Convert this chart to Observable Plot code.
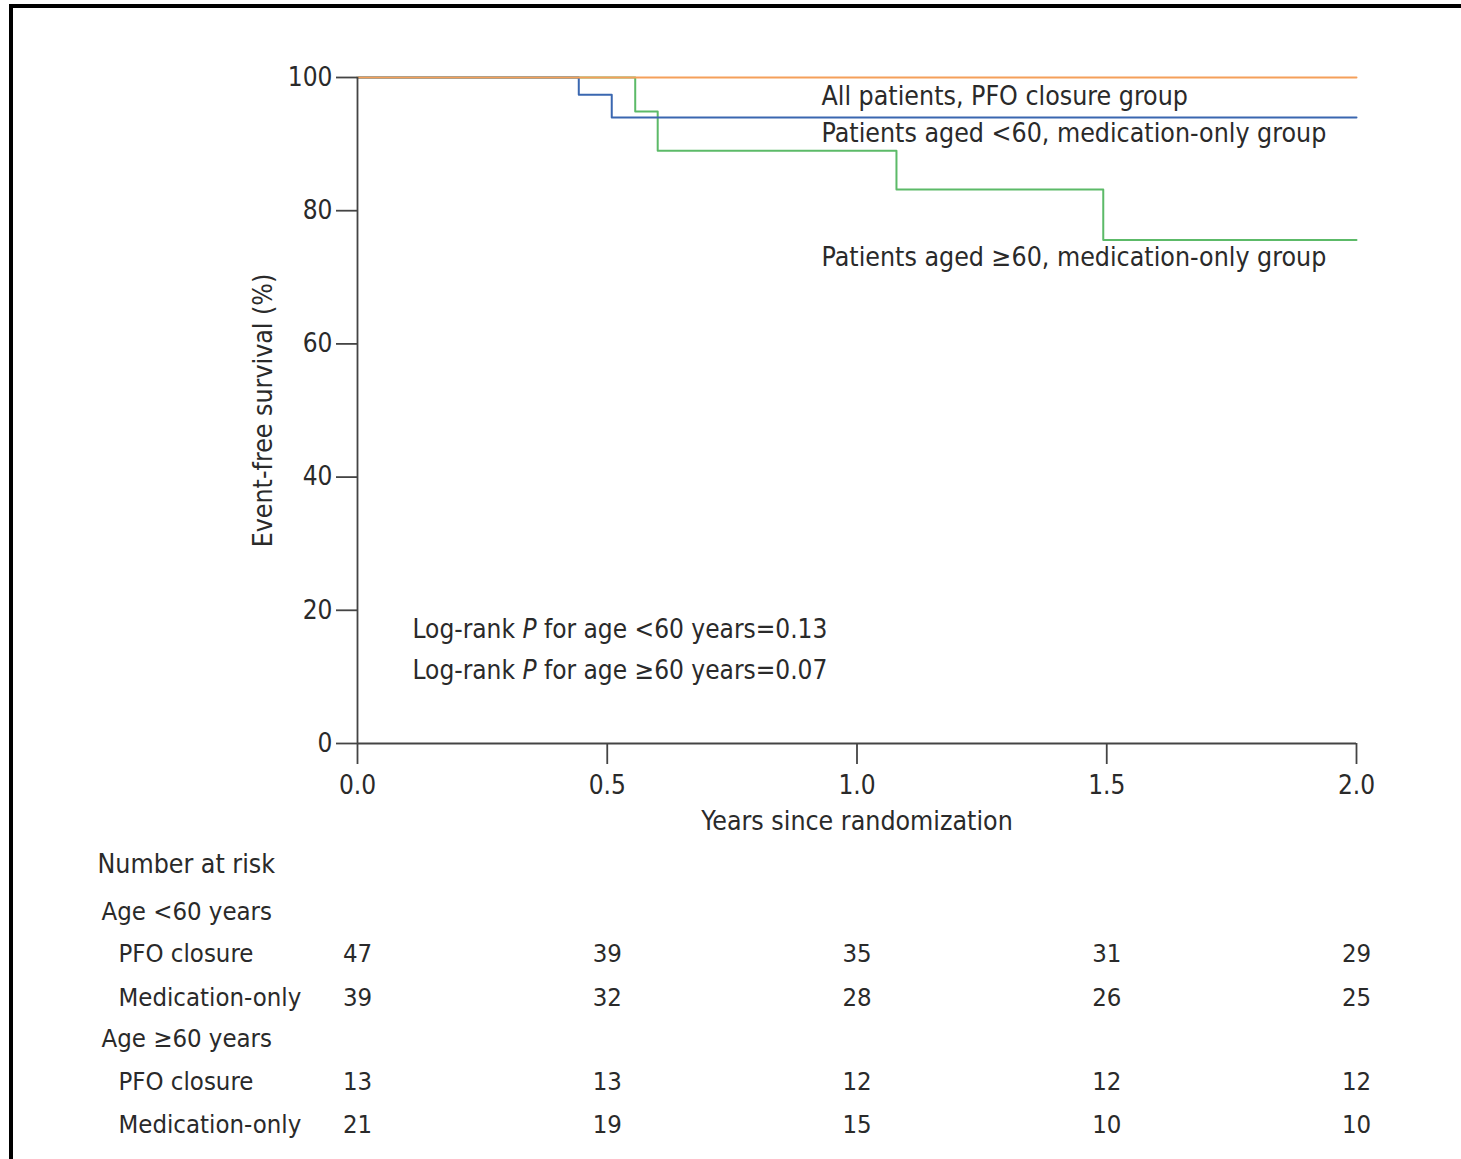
<!DOCTYPE html>
<html>
<head>
<meta charset="utf-8">
<script src="https://cdn.jsdelivr.net/npm/d3@7"></script>
<script src="https://cdn.jsdelivr.net/npm/@observablehq/plot@0.6"></script>
<style>
  html, body { margin: 0; padding: 0; background: #fff; }
  #wrap { position: relative; width: 1461px; height: 1159px; overflow: hidden; }
  #frame { position: absolute; left: 9px; top: 4px; right: -10px; bottom: -10px;
           border-top: 4px solid #000; border-left: 4px solid #000; pointer-events: none; }
  #chart { position: absolute; left: 0; top: 0; }
</style>
</head>
<body>
<div id="wrap"><div id="chart"></div><div id="frame"></div></div>
<script>
// ---------- data ----------
const xTicks = [0, 0.5, 1.0, 1.5, 2.0];
const yTicks = [0, 20, 40, 60, 80, 100];

// Kaplan-Meier step curves (years, event-free survival %)
const pfoAllTimes = [0, 2.0];
const pfoAllSurv  = [100, 100];
const medU60Times = [0, 0.443, 0.509, 2.0];
const medU60Surv  = [100, 97.4, 94.0, 94.0];
const medO60Times = [0, 0.556, 0.601, 1.079, 1.493, 2.0];
const medO60Surv  = [100, 94.9, 89.0, 83.2, 75.6, 75.6];

const seriesNames = [
  "All patients, PFO closure group",
  "Patients aged <60, medication-only group",
  "Patients aged \u226560, medication-only group"
];
const seriesColors = ["#f5a05a", "#3a67b0", "#5cba68"];

const pValueTexts = [
  "Log-rank P for age <60 years=0.13",
  "Log-rank P for age \u226560 years=0.07"
];

// Number at risk
const riskYears = [0, 0.5, 1.0, 1.5, 2.0];
const riskTitle = "Number at risk";
const groupLabels = ["Age <60 years", "Age \u226560 years"];
const armLabels = ["PFO closure", "Medication-only"];
const riskU60Pfo = [47, 39, 35, 31, 29];
const riskU60Med = [39, 32, 28, 26, 25];
const riskO60Pfo = [13, 13, 12, 12, 12];
const riskO60Med = [21, 19, 15, 10, 10];

// ---------- build tables ----------
function curve(times, surv, name) {
  return times.map((t, i) => ({t, s: surv[i], name}));
}
const curves = [
  ...curve(pfoAllTimes, pfoAllSurv, seriesNames[0]),
  ...curve(medU60Times, medU60Surv, seriesNames[1]),
  ...curve(medO60Times, medO60Surv, seriesNames[2])
];

const riskRows = [riskU60Pfo, riskU60Med, riskO60Pfo, riskO60Med];

// ---------- layout (pixels) ----------
const FONT = '"DejaVu Sans Condensed", "DejaVu Sans", sans-serif';
const TXT = "#2a2a2a";
const AX = "#444";
const LBL = 26.5;
const seriesLabelDy = [19, 56, 180];   // from top of frame
const pLabelDy = [-114, -73];          // from bottom of frame
const groupDy = [168, 295];            // from bottom of frame
const armDy = [[210, 254], [338, 381]];
const countDy = [[210, 254], [338, 381]];

const marks = [];

// lines (orange drawn last so it sits on top at 100%)
[2, 1, 0].forEach(i => {
  const n = seriesNames[i];
  marks.push(Plot.line(curves.filter(d => d.name === n), {
    x: "t", y: "s", curve: "step-after", stroke: seriesColors[i], strokeWidth: 2
  }));
});

// axes lines
marks.push(Plot.ruleY([0], {stroke: AX, strokeWidth: 1.8}));
marks.push(Plot.ruleX([0], {stroke: AX, strokeWidth: 1.8}));

marks.push(Plot.axisX({ticks: xTicks, tickFormat: d3.format(".1f"), tickSize: 21, tickPadding: 11,
  stroke: AX, strokeWidth: 1.8, fill: TXT, label: null, fontSize: 26}));
marks.push(Plot.axisY({ticks: yTicks, tickSize: 21, tickPadding: 4,
  stroke: AX, strokeWidth: 1.8, fill: TXT, label: null, fontSize: 26}));

// axis titles
marks.push(Plot.text(["Event-free survival (%)"], {frameAnchor: "left", rotate: -90, dx: -94,
  fill: TXT, fontSize: LBL, textAnchor: "middle", lineAnchor: "middle"}));
marks.push(Plot.text(["Years since randomization"], {frameAnchor: "bottom", dy: 78,
  fill: TXT, fontSize: LBL, textAnchor: "middle", lineAnchor: "middle"}));

// series labels
seriesNames.forEach((n, i) => {
  marks.push(Plot.text([n], {frameAnchor: "top-left", dx: 464, dy: seriesLabelDy[i],
    textAnchor: "start", lineAnchor: "middle", fill: TXT, fontSize: LBL}));
});

// p-values
pValueTexts.forEach((p, i) => {
  marks.push(Plot.text([p], {frameAnchor: "bottom-left", dx: 55, dy: pLabelDy[i],
    textAnchor: "start", lineAnchor: "middle", fill: TXT, fontSize: 26, className: "pval"}));
});

// Number at risk table
marks.push(Plot.text([riskTitle], {frameAnchor: "bottom-left", dx: -260, dy: 121,
  textAnchor: "start", lineAnchor: "middle", fill: TXT, fontSize: LBL}));
groupLabels.forEach((g, gi) => {
  marks.push(Plot.text([g], {frameAnchor: "bottom-left", dx: -256, dy: groupDy[gi],
    textAnchor: "start", lineAnchor: "middle", fill: TXT, fontSize: 25.5}));
  armLabels.forEach((a, ai) => {
    marks.push(Plot.text([a], {frameAnchor: "bottom-left", dx: -239, dy: armDy[gi][ai],
      textAnchor: "start", lineAnchor: "middle", fill: TXT, fontSize: 25.5}));
    const counts = riskRows[gi * 2 + ai];
    marks.push(Plot.text(riskYears.map((yr, k) => ({yr, n: counts[k]})), {
      x: "yr", text: d => String(d.n), frameAnchor: "bottom", dy: countDy[gi][ai],
      textAnchor: "middle", lineAnchor: "middle", fill: TXT, fontSize: 25.5}));
  });
});

const plot = Plot.plot({
  width: 1461,
  height: 1159,
  marginLeft: 357,
  marginRight: 105,
  marginTop: 77,
  marginBottom: 416,
  style: {fontFamily: FONT, fontStretch: "condensed", background: "transparent", color: TXT, overflow: "visible"},
  x: {domain: [0, 2]},
  y: {domain: [0, 100]},
  marks
});

document.getElementById("chart").appendChild(plot);

// italic P in log-rank texts
d3.select(plot).selectAll("g.pval text").each(function() {
  const t = this.textContent;
  const rest = t.replace("Log-rank P", "");
  const sel = d3.select(this);
  sel.text(null);
  sel.append("tspan").text("Log-rank ");
  sel.append("tspan").attr("font-style", "italic").text("P");
  sel.append("tspan").text(rest);
});
</script>
</body>
</html>
